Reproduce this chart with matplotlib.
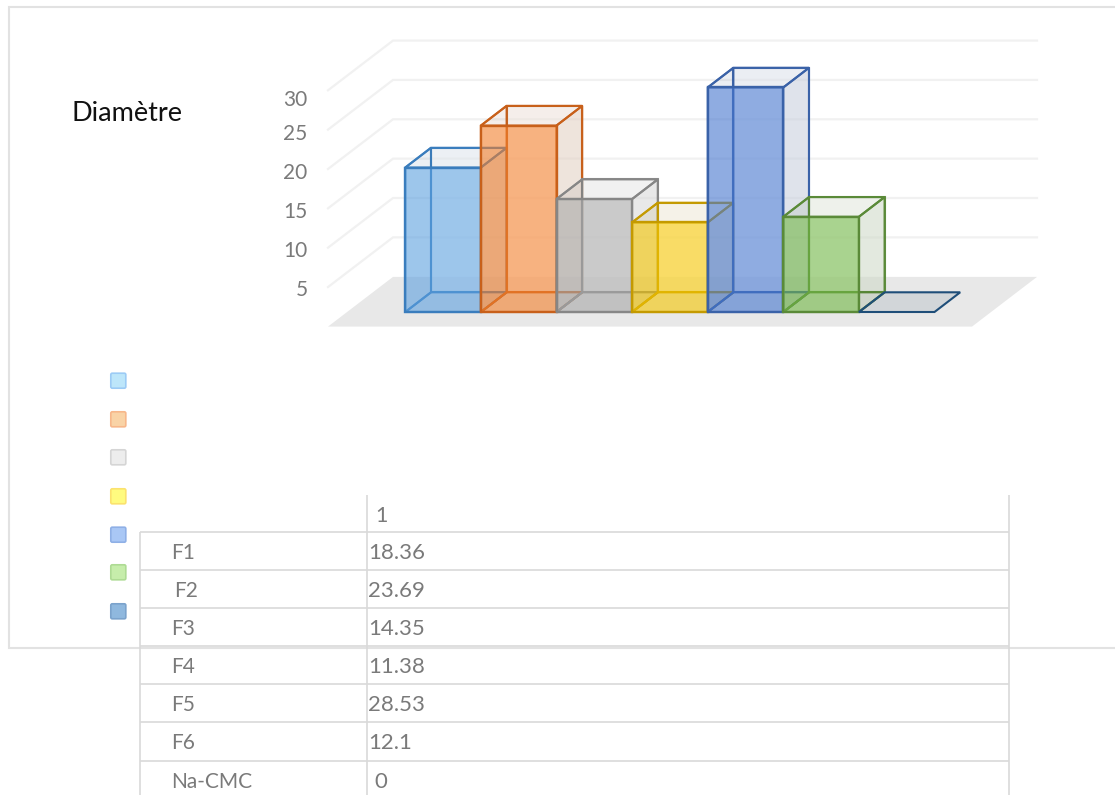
import matplotlib
matplotlib.use("Agg")
import matplotlib.pyplot as plt
from matplotlib.colors import to_rgb
from matplotlib.patches import Polygon, FancyBboxPatch

plt.rcParams['font.family'] = ['Lato', 'DejaVu Sans']

# Data
categories = ["F1", "F2", "F3", "F4", "F5", "F6", "Na-CMC"]
diameters = [18.36, 23.69, 14.35, 11.38, 28.53, 12.1, 0]
value_labels = ["18.36", "23.69", "14.35", "11.38", "28.53", "12.1", "0"]
axis_ticks = [5, 10, 15, 20, 25, 30]
axis_title = "Diamètre"
table_header = "1"

# Styling
face_colors = ["#5CA0DF", "#F37F2B", "#A8A8A8", "#F5C600", "#4475CE", "#71B644", "#255E91"]
edge_colors = ["#3A7DBD", "#C8601A", "#868686", "#C49A00", "#3A62A8", "#5A8A38", "#1F4E79"]
swatch_faces = ["#BDE6FA", "#F9D3A6", "#EDEDED", "#FFFB7F", "#A9C7F5", "#C6EDAB", "#8FB8DE"]
swatch_edges = ["#9CCBF5", "#F7B78A", "#D5D5D5", "#FBE26E", "#8FB0E6", "#AEDB94", "#7BA3CC"]
swatch_centers = [380.7, 419.3, 457.3, 496.3, 534.7, 572.3, 611.3]
tick_nudge = [1, 0.7, 1.5, 2, 2, 7]
cell_name_nudge = [0, 3, 0, 0, 0, 0, 0]
value_nudge = [0, 0, 0, 0, 0, 0, 6]
LINE = "#D9D9D9"
TEXT = "#7A7A7A"

# Projection: oblique view of the 3D plot, in figure pixels
UNIT = 7.87
BASE_Y = 312.0
BAR_LEFT = 405.3
BAR_W = 75.6
DEPTH_X, DEPTH_Y = 25.7, -19.7
WALL_DX, WALL_DY = 65.0, -49.7
FLOOR_FRONT = 326.6
FLOOR_X0, FLOOR_X1 = 328.0, 972.0


def fy(value):
    return BASE_Y - value * UNIT


def shade(color, factor=0.6):
    return tuple(c * factor for c in to_rgb(color))


fig = plt.figure(figsize=(11.15, 7.95), dpi=100, facecolor="white")
ax = fig.add_axes([0, 0, 1, 1])
ax.set_xlim(0, 1115)
ax.set_ylim(795, 0)
ax.axis("off")

# Chart frame (open on the right)
ax.plot([1115, 9, 9, 1115], [7, 7, 648.3, 648.3], color="#E2E2E2", lw=1.5, zorder=1,
        solid_joinstyle="miter")

# Floor
ax.add_patch(Polygon([(FLOOR_X0, FLOOR_FRONT), (FLOOR_X1, FLOOR_FRONT),
                      (FLOOR_X1 + WALL_DX, FLOOR_FRONT + WALL_DY),
                      (FLOOR_X0 + WALL_DX, FLOOR_FRONT + WALL_DY)],
                     closed=True, fc="#E8E8E8", ec="none", zorder=2))

# Gridlines along the side and back walls
for tick in axis_ticks:
    y_front = FLOOR_FRONT - tick * UNIT - 0.2
    ax.plot([FLOOR_X0, FLOOR_X0 + WALL_DX, FLOOR_X1 + WALL_DX],
            [y_front, y_front + WALL_DY, y_front + WALL_DY],
            color="#F1F1F1", lw=1.6, zorder=2, solid_joinstyle="miter")

# Axis tick labels
for tick, nudge in zip(axis_ticks, tick_nudge):
    ax.text(307.5, FLOOR_FRONT - tick * UNIT + nudge, str(tick), color=TEXT, fontsize=15,
            ha="right", va="center_baseline", zorder=3)

ax.text(72, 111, axis_title, color="#111111", fontsize=19.5, ha="left",
        va="center_baseline", zorder=3)

# Bars: rear faces first, then top and side, then the translucent front
EDGE_LW = 1.5
for i, value in enumerate(diameters):
    x0 = BAR_LEFT + i * BAR_W
    x1 = x0 + BAR_W
    y0 = BASE_Y
    y1 = fy(value)
    dx, dy = DEPTH_X, DEPTH_Y
    z = 4 + i * 0.1
    ec = edge_colors[i]
    fc = face_colors[i]
    dark = shade(fc)

    back = [(x0 + dx, y0 + dy), (x1 + dx, y0 + dy), (x1 + dx, y1 + dy), (x0 + dx, y1 + dy)]
    left = [(x0, y0), (x0 + dx, y0 + dy), (x0 + dx, y1 + dy), (x0, y1)]
    floor = [(x0, y0), (x1, y0), (x1 + dx, y0 + dy), (x0 + dx, y0 + dy)]
    right = [(x1, y0), (x1 + dx, y0 + dy), (x1 + dx, y1 + dy), (x1, y1)]
    top = [(x0, y1), (x1, y1), (x1 + dx, y1 + dy), (x0 + dx, y1 + dy)]
    front = [(x0, y0), (x1, y0), (x1, y1), (x0, y1)]

    if value:
        ax.add_patch(Polygon(back, closed=True, fc="white", alpha=0.55, ec="none", zorder=z))
        ax.add_patch(Polygon(back, closed=True, fc="none", ec=ec, lw=EDGE_LW, alpha=0.9, zorder=z))
        ax.add_patch(Polygon(left, closed=True, fc="none", ec=ec, lw=EDGE_LW, alpha=0.9, zorder=z))
        ax.add_patch(Polygon(floor, closed=True, fc="none", ec=ec, lw=EDGE_LW, zorder=z))
        ax.add_patch(Polygon(right, closed=True, fc=dark + (0.15,), ec=ec, lw=EDGE_LW, zorder=z + 0.01))
        ax.add_patch(Polygon(top, closed=True, fc=dark + (0.09,), ec=ec, lw=EDGE_LW, zorder=z + 0.01))
        ax.add_patch(Polygon(front, closed=True, fc=fc, alpha=0.6, ec="none", zorder=z + 0.02))
        ax.add_patch(Polygon(front, closed=True, fc="none", ec=ec, lw=EDGE_LW + 0.2, zorder=z + 0.03))
    else:
        # A zero value collapses the bar to a flat outline on the floor
        ax.add_patch(Polygon(floor, closed=True, fc=dark + (0.1,), ec=ec, lw=EDGE_LW, zorder=z))

# Legend keys
for yc, fc, ec in zip(swatch_centers, swatch_faces, swatch_edges):
    ax.add_patch(FancyBboxPatch((110.8, yc - 7.5), 15, 15,
                                boxstyle="round,pad=0,rounding_size=1.5",
                                fc=fc, ec=ec, lw=1.2, zorder=3))

# Data table
row_edges = [531.8, 569.8, 607.8, 645.8, 683.8, 721.8, 761]
for y in row_edges:
    ax.plot([140, 1009], [y, y], color=LINE, lw=1.2, zorder=5, solid_capstyle="butt")
ax.plot([140, 140], [531.8, 795], color=LINE, lw=1.2, zorder=5, solid_capstyle="butt")
ax.plot([367, 367], [495, 795], color=LINE, lw=1.2, zorder=5, solid_capstyle="butt")
ax.plot([1009, 1009], [495, 795], color=LINE, lw=1.2, zorder=5, solid_capstyle="butt")

ax.text(375, 514.5, table_header, color=TEXT, fontsize=15.5, ha="left", va="center_baseline", zorder=6)
row_centers = [551, 589, 627, 665, 703, 741, 780]
for name, label, yc, n1, n2 in zip(categories, value_labels, row_centers, cell_name_nudge, value_nudge):
    ax.text(171.5 + n1, yc, name, color=TEXT, fontsize=15, ha="left", va="center_baseline", zorder=6)
    ax.text(368 + n2, yc, label, color=TEXT, fontsize=16, ha="left", va="center_baseline", zorder=6)

fig.savefig("out.png", dpi=100, facecolor="white")
